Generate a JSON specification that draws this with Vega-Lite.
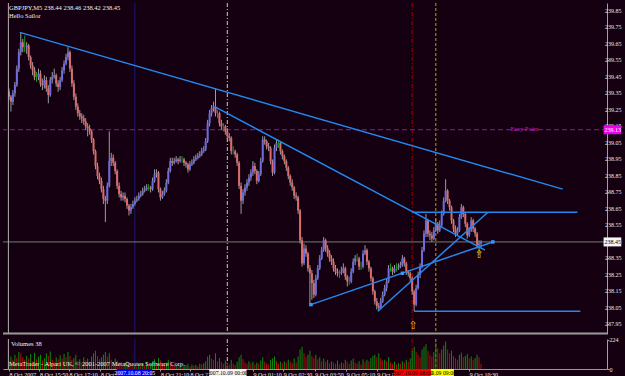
{
"$schema": "https://vega.github.io/schema/vega-lite/v6.json",
"background": "#140010",
"padding": {"left": 2, "top": 2, "right": 0, "bottom": 0},
"spacing": 1,
"config": {
 "view": {"stroke": null},
 "axis": {"grid": false, "labelFont": "Liberation Sans Narrow", "labelFontSize": 6.5, "labelColor": "#e8e8e8", "domainColor": "#a0a0a0", "tickColor": "#a0a0a0", "tickSize": 2, "labelOverlap": false, "labelFlush": false},
 "text": {"font": "Liberation Sans Narrow"}
},
"datasets": {
 "bars": [
{"t":0,"o":239.36,"h":239.38,"l":239.31,"c":239.33,"v":60},
{"t":1,"o":239.33,"h":239.34,"l":239.24,"c":239.30,"v":95},
{"t":2,"o":239.30,"h":239.37,"l":239.28,"c":239.35,"v":70},
{"t":3,"o":239.35,"h":239.42,"l":239.33,"c":239.40,"v":110},
{"t":4,"o":239.40,"h":239.52,"l":239.39,"c":239.50,"v":85},
{"t":5,"o":239.50,"h":239.62,"l":239.48,"c":239.60,"v":130},
{"t":6,"o":239.60,"h":239.72,"l":239.58,"c":239.66,"v":120},
{"t":7,"o":239.66,"h":239.68,"l":239.60,"c":239.63,"v":90},
{"t":8,"o":239.63,"h":239.70,"l":239.60,"c":239.63,"v":70},
{"t":9,"o":239.63,"h":239.66,"l":239.59,"c":239.64,"v":100},
{"t":10,"o":239.64,"h":239.65,"l":239.55,"c":239.57,"v":80},
{"t":11,"o":239.57,"h":239.58,"l":239.50,"c":239.52,"v":115},
{"t":12,"o":239.52,"h":239.54,"l":239.46,"c":239.49,"v":60},
{"t":13,"o":239.49,"h":239.51,"l":239.43,"c":239.45,"v":125},
{"t":14,"o":239.45,"h":239.48,"l":239.42,"c":239.45,"v":75},
{"t":15,"o":239.45,"h":239.50,"l":239.43,"c":239.47,"v":95},
{"t":16,"o":239.47,"h":239.49,"l":239.39,"c":239.41,"v":110},
{"t":17,"o":239.41,"h":239.44,"l":239.37,"c":239.40,"v":65},
{"t":18,"o":239.40,"h":239.46,"l":239.38,"c":239.43,"v":85},
{"t":19,"o":239.43,"h":239.45,"l":239.36,"c":239.38,"v":120},
{"t":20,"o":239.38,"h":239.40,"l":239.29,"c":239.34,"v":100},
{"t":21,"o":239.34,"h":239.45,"l":239.33,"c":239.43,"v":135},
{"t":22,"o":239.43,"h":239.48,"l":239.41,"c":239.45,"v":70},
{"t":23,"o":239.45,"h":239.50,"l":239.44,"c":239.46,"v":55},
{"t":24,"o":239.46,"h":239.47,"l":239.39,"c":239.41,"v":90},
{"t":25,"o":239.41,"h":239.43,"l":239.36,"c":239.39,"v":75},
{"t":26,"o":239.39,"h":239.45,"l":239.37,"c":239.43,"v":105},
{"t":27,"o":239.43,"h":239.51,"l":239.42,"c":239.49,"v":80},
{"t":28,"o":239.49,"h":239.55,"l":239.47,"c":239.53,"v":115},
{"t":29,"o":239.53,"h":239.59,"l":239.52,"c":239.57,"v":90},
{"t":30,"o":239.57,"h":239.63,"l":239.55,"c":239.60,"v":130},
{"t":31,"o":239.60,"h":239.61,"l":239.48,"c":239.50,"v":100},
{"t":32,"o":239.50,"h":239.52,"l":239.39,"c":239.41,"v":70},
{"t":33,"o":239.41,"h":239.43,"l":239.31,"c":239.33,"v":85},
{"t":34,"o":239.33,"h":239.35,"l":239.25,"c":239.27,"v":110},
{"t":35,"o":239.27,"h":239.29,"l":239.21,"c":239.23,"v":60},
{"t":36,"o":239.23,"h":239.25,"l":239.19,"c":239.21,"v":75},
{"t":37,"o":239.21,"h":239.23,"l":239.17,"c":239.20,"v":50},
{"t":38,"o":239.20,"h":239.22,"l":239.16,"c":239.18,"v":90},
{"t":39,"o":239.18,"h":239.20,"l":239.13,"c":239.15,"v":65},
{"t":40,"o":239.15,"h":239.17,"l":239.09,"c":239.14,"v":80},
{"t":41,"o":239.14,"h":239.16,"l":239.10,"c":239.12,"v":55},
{"t":42,"o":239.12,"h":239.13,"l":239.05,"c":239.07,"v":95},
{"t":43,"o":239.07,"h":239.08,"l":238.98,"c":239.00,"v":120},
{"t":44,"o":239.00,"h":239.01,"l":238.89,"c":238.91,"v":140},
{"t":45,"o":238.91,"h":238.93,"l":238.83,"c":238.85,"v":100},
{"t":46,"o":238.85,"h":238.87,"l":238.80,"c":238.82,"v":75},
{"t":47,"o":238.82,"h":238.84,"l":238.75,"c":238.77,"v":90},
{"t":48,"o":238.77,"h":238.79,"l":238.68,"c":238.71,"v":110},
{"t":49,"o":238.71,"h":238.73,"l":238.57,"c":238.70,"v":130},
{"t":50,"o":238.70,"h":238.81,"l":238.68,"c":238.79,"v":95},
{"t":51,"o":238.79,"h":239.12,"l":238.78,"c":238.94,"v":120},
{"t":52,"o":238.94,"h":238.99,"l":238.91,"c":238.96,"v":70},
{"t":53,"o":238.96,"h":238.98,"l":238.91,"c":238.93,"v":55},
{"t":54,"o":238.93,"h":238.94,"l":238.86,"c":238.88,"v":80},
{"t":55,"o":238.88,"h":238.89,"l":238.77,"c":238.79,"v":65},
{"t":56,"o":238.79,"h":238.81,"l":238.72,"c":238.74,"v":50},
{"t":57,"o":238.74,"h":238.76,"l":238.70,"c":238.72,"v":40},
{"t":58,"o":238.72,"h":238.75,"l":238.70,"c":238.73,"v":35},
{"t":59,"o":238.73,"h":238.75,"l":238.69,"c":238.71,"v":45},
{"t":60,"o":238.71,"h":238.72,"l":238.65,"c":238.67,"v":60},
{"t":61,"o":238.67,"h":238.68,"l":238.61,"c":238.64,"v":50},
{"t":62,"o":238.64,"h":238.68,"l":238.62,"c":238.66,"v":30},
{"t":63,"o":238.66,"h":238.70,"l":238.65,"c":238.68,"v":25},
{"t":64,"o":238.68,"h":238.72,"l":238.67,"c":238.70,"v":35},
{"t":65,"o":238.70,"h":238.73,"l":238.69,"c":238.71,"v":20},
{"t":66,"o":238.71,"h":238.75,"l":238.70,"c":238.73,"v":40},
{"t":67,"o":238.73,"h":238.76,"l":238.72,"c":238.74,"v":30},
{"t":68,"o":238.74,"h":238.78,"l":238.73,"c":238.76,"v":45},
{"t":69,"o":238.76,"h":238.79,"l":238.75,"c":238.77,"v":25},
{"t":70,"o":238.77,"h":238.80,"l":238.76,"c":238.78,"v":55},
{"t":71,"o":238.78,"h":238.80,"l":238.76,"c":238.78,"v":30},
{"t":72,"o":238.78,"h":238.79,"l":238.75,"c":238.77,"v":40},
{"t":73,"o":238.77,"h":238.84,"l":238.76,"c":238.82,"v":60},
{"t":74,"o":238.82,"h":238.89,"l":238.81,"c":238.86,"v":75},
{"t":75,"o":238.86,"h":238.89,"l":238.84,"c":238.87,"v":45},
{"t":76,"o":238.87,"h":238.88,"l":238.75,"c":238.77,"v":85},
{"t":77,"o":238.77,"h":238.78,"l":238.70,"c":238.72,"v":65},
{"t":78,"o":238.72,"h":238.76,"l":238.71,"c":238.74,"v":40},
{"t":79,"o":238.74,"h":238.78,"l":238.73,"c":238.76,"v":30},
{"t":80,"o":238.76,"h":238.83,"l":238.75,"c":238.81,"v":50},
{"t":81,"o":238.81,"h":238.90,"l":238.80,"c":238.88,"v":70},
{"t":82,"o":238.88,"h":238.96,"l":238.87,"c":238.94,"v":60},
{"t":83,"o":238.94,"h":238.96,"l":238.91,"c":238.93,"v":35},
{"t":84,"o":238.93,"h":238.96,"l":238.92,"c":238.94,"v":25},
{"t":85,"o":238.94,"h":238.97,"l":238.93,"c":238.95,"v":30},
{"t":86,"o":238.95,"h":238.96,"l":238.92,"c":238.94,"v":20},
{"t":87,"o":238.94,"h":238.97,"l":238.93,"c":238.95,"v":35},
{"t":88,"o":238.95,"h":238.97,"l":238.93,"c":238.95,"v":15},
{"t":89,"o":238.95,"h":238.96,"l":238.91,"c":238.93,"v":25},
{"t":90,"o":238.93,"h":238.94,"l":238.90,"c":238.92,"v":30},
{"t":91,"o":238.92,"h":238.93,"l":238.87,"c":238.89,"v":40},
{"t":92,"o":238.89,"h":238.94,"l":238.88,"c":238.92,"v":20},
{"t":93,"o":238.92,"h":238.95,"l":238.91,"c":238.93,"v":35},
{"t":94,"o":238.93,"h":238.97,"l":238.92,"c":238.95,"v":25},
{"t":95,"o":238.95,"h":238.98,"l":238.94,"c":238.96,"v":30},
{"t":96,"o":238.96,"h":238.99,"l":238.95,"c":238.97,"v":20},
{"t":97,"o":238.97,"h":239.00,"l":238.96,"c":238.98,"v":40},
{"t":98,"o":238.98,"h":239.02,"l":238.97,"c":239.00,"v":35},
{"t":99,"o":239.00,"h":239.03,"l":238.99,"c":239.01,"v":45},
{"t":100,"o":239.01,"h":239.08,"l":239.00,"c":239.06,"v":60},
{"t":101,"o":239.06,"h":239.19,"l":239.05,"c":239.17,"v":95},
{"t":102,"o":239.17,"h":239.25,"l":239.15,"c":239.23,"v":110},
{"t":103,"o":239.23,"h":239.28,"l":239.21,"c":239.26,"v":80},
{"t":104,"o":239.26,"h":239.30,"l":239.24,"c":239.27,"v":70},
{"t":105,"o":239.27,"h":239.38,"l":239.21,"c":239.23,"v":120},
{"t":106,"o":239.23,"h":239.25,"l":239.20,"c":239.23,"v":60},
{"t":107,"o":239.23,"h":239.24,"l":239.15,"c":239.17,"v":85},
{"t":108,"o":239.17,"h":239.19,"l":239.13,"c":239.15,"v":55},
{"t":109,"o":239.15,"h":239.17,"l":239.12,"c":239.15,"v":40},
{"t":110,"o":239.15,"h":239.16,"l":239.10,"c":239.12,"v":65},
{"t":111,"o":239.12,"h":239.14,"l":239.07,"c":239.09,"v":50},
{"t":112,"o":239.09,"h":239.11,"l":239.06,"c":239.08,"v":35},
{"t":113,"o":239.08,"h":239.09,"l":238.98,"c":239.00,"v":70},
{"t":114,"o":239.00,"h":239.03,"l":238.98,"c":239.00,"v":40},
{"t":115,"o":239.00,"h":239.01,"l":238.96,"c":238.98,"v":30},
{"t":116,"o":238.98,"h":238.99,"l":238.91,"c":238.93,"v":55},
{"t":117,"o":238.93,"h":238.94,"l":238.77,"c":238.79,"v":90},
{"t":118,"o":238.79,"h":238.81,"l":238.62,"c":238.70,"v":110},
{"t":119,"o":238.70,"h":238.77,"l":238.68,"c":238.75,"v":75},
{"t":120,"o":238.75,"h":238.80,"l":238.73,"c":238.78,"v":50},
{"t":121,"o":238.78,"h":238.83,"l":238.76,"c":238.81,"v":40},
{"t":122,"o":238.81,"h":238.86,"l":238.79,"c":238.84,"v":60},
{"t":123,"o":238.84,"h":238.89,"l":238.82,"c":238.87,"v":45},
{"t":124,"o":238.87,"h":238.94,"l":238.85,"c":238.91,"v":55},
{"t":125,"o":238.91,"h":238.93,"l":238.86,"c":238.88,"v":35},
{"t":126,"o":238.88,"h":238.89,"l":238.80,"c":238.82,"v":50},
{"t":127,"o":238.82,"h":238.88,"l":238.81,"c":238.86,"v":40},
{"t":128,"o":238.86,"h":238.96,"l":238.85,"c":238.94,"v":65},
{"t":129,"o":238.94,"h":239.09,"l":238.93,"c":239.07,"v":90},
{"t":130,"o":239.07,"h":239.09,"l":239.04,"c":239.06,"v":55},
{"t":131,"o":239.06,"h":239.07,"l":239.01,"c":239.03,"v":45},
{"t":132,"o":239.03,"h":239.05,"l":239.00,"c":239.02,"v":35},
{"t":133,"o":239.02,"h":239.03,"l":238.92,"c":238.94,"v":70},
{"t":134,"o":238.94,"h":238.95,"l":238.85,"c":238.87,"v":80},
{"t":135,"o":238.87,"h":239.04,"l":238.86,"c":239.02,"v":95},
{"t":136,"o":239.02,"h":239.07,"l":239.00,"c":239.05,"v":60},
{"t":137,"o":239.05,"h":239.07,"l":239.02,"c":239.05,"v":40},
{"t":138,"o":239.05,"h":239.06,"l":238.98,"c":239.00,"v":55},
{"t":139,"o":239.00,"h":239.01,"l":238.95,"c":238.97,"v":45},
{"t":140,"o":238.97,"h":238.98,"l":238.92,"c":238.94,"v":60},
{"t":141,"o":238.94,"h":238.95,"l":238.88,"c":238.90,"v":50},
{"t":142,"o":238.90,"h":238.91,"l":238.83,"c":238.85,"v":70},
{"t":143,"o":238.85,"h":238.86,"l":238.79,"c":238.81,"v":55},
{"t":144,"o":238.81,"h":238.83,"l":238.76,"c":238.78,"v":45},
{"t":145,"o":238.78,"h":238.79,"l":238.71,"c":238.73,"v":80},
{"t":146,"o":238.73,"h":238.75,"l":238.70,"c":238.72,"v":50},
{"t":147,"o":238.72,"h":238.73,"l":238.62,"c":238.64,"v":95},
{"t":148,"o":238.64,"h":238.65,"l":238.44,"c":238.46,"v":150},
{"t":149,"o":238.46,"h":238.48,"l":238.30,"c":238.32,"v":170},
{"t":150,"o":238.32,"h":238.44,"l":238.31,"c":238.41,"v":120},
{"t":151,"o":238.41,"h":238.43,"l":238.36,"c":238.38,"v":90},
{"t":152,"o":238.38,"h":238.39,"l":238.27,"c":238.29,"v":110},
{"t":153,"o":238.29,"h":238.31,"l":238.07,"c":238.26,"v":140},
{"t":154,"o":238.26,"h":238.28,"l":238.10,"c":238.20,"v":100},
{"t":155,"o":238.20,"h":238.22,"l":238.11,"c":238.13,"v":85},
{"t":156,"o":238.13,"h":238.25,"l":238.12,"c":238.23,"v":110},
{"t":157,"o":238.23,"h":238.31,"l":238.22,"c":238.29,"v":75},
{"t":158,"o":238.29,"h":238.37,"l":238.28,"c":238.35,"v":90},
{"t":159,"o":238.35,"h":238.42,"l":238.34,"c":238.40,"v":60},
{"t":160,"o":238.40,"h":238.48,"l":238.39,"c":238.46,"v":80},
{"t":161,"o":238.46,"h":238.47,"l":238.39,"c":238.41,"v":55},
{"t":162,"o":238.41,"h":238.43,"l":238.36,"c":238.38,"v":70},
{"t":163,"o":238.38,"h":238.40,"l":238.33,"c":238.35,"v":45},
{"t":164,"o":238.35,"h":238.37,"l":238.31,"c":238.33,"v":60},
{"t":165,"o":238.33,"h":238.35,"l":238.27,"c":238.29,"v":50},
{"t":166,"o":238.29,"h":238.31,"l":238.25,"c":238.27,"v":40},
{"t":167,"o":238.27,"h":238.29,"l":238.24,"c":238.26,"v":65},
{"t":168,"o":238.26,"h":238.28,"l":238.23,"c":238.26,"v":35},
{"t":169,"o":238.26,"h":238.30,"l":238.25,"c":238.27,"v":50},
{"t":170,"o":238.27,"h":238.32,"l":238.26,"c":238.29,"v":45},
{"t":171,"o":238.29,"h":238.30,"l":238.22,"c":238.24,"v":70},
{"t":172,"o":238.24,"h":238.25,"l":238.18,"c":238.21,"v":55},
{"t":173,"o":238.21,"h":238.24,"l":238.19,"c":238.21,"v":40},
{"t":174,"o":238.21,"h":238.29,"l":238.20,"c":238.27,"v":65},
{"t":175,"o":238.27,"h":238.35,"l":238.26,"c":238.33,"v":80},
{"t":176,"o":238.33,"h":238.37,"l":238.31,"c":238.35,"v":50},
{"t":177,"o":238.35,"h":238.38,"l":238.33,"c":238.35,"v":40},
{"t":178,"o":238.35,"h":238.36,"l":238.28,"c":238.30,"v":60},
{"t":179,"o":238.30,"h":238.33,"l":238.28,"c":238.30,"v":35},
{"t":180,"o":238.30,"h":238.40,"l":238.29,"c":238.38,"v":75},
{"t":181,"o":238.38,"h":238.43,"l":238.37,"c":238.40,"v":55},
{"t":182,"o":238.40,"h":238.41,"l":238.31,"c":238.33,"v":70},
{"t":183,"o":238.33,"h":238.34,"l":238.27,"c":238.29,"v":60},
{"t":184,"o":238.29,"h":238.30,"l":238.21,"c":238.23,"v":85},
{"t":185,"o":238.23,"h":238.24,"l":238.13,"c":238.15,"v":100},
{"t":186,"o":238.15,"h":238.16,"l":238.07,"c":238.09,"v":110},
{"t":187,"o":238.09,"h":238.11,"l":238.04,"c":238.06,"v":90},
{"t":188,"o":238.06,"h":238.08,"l":238.03,"c":238.05,"v":120},
{"t":189,"o":238.05,"h":238.11,"l":238.04,"c":238.09,"v":80},
{"t":190,"o":238.09,"h":238.15,"l":238.08,"c":238.13,"v":65},
{"t":191,"o":238.13,"h":238.19,"l":238.12,"c":238.17,"v":70},
{"t":192,"o":238.17,"h":238.23,"l":238.15,"c":238.21,"v":60},
{"t":193,"o":238.21,"h":238.31,"l":238.20,"c":238.29,"v":90},
{"t":194,"o":238.29,"h":238.32,"l":238.27,"c":238.29,"v":50},
{"t":195,"o":238.29,"h":238.30,"l":238.25,"c":238.27,"v":40},
{"t":196,"o":238.27,"h":238.31,"l":238.26,"c":238.29,"v":55},
{"t":197,"o":238.29,"h":238.32,"l":238.27,"c":238.29,"v":35},
{"t":198,"o":238.29,"h":238.32,"l":238.28,"c":238.30,"v":45},
{"t":199,"o":238.30,"h":238.33,"l":238.29,"c":238.31,"v":40},
{"t":200,"o":238.31,"h":238.37,"l":238.30,"c":238.35,"v":60},
{"t":201,"o":238.35,"h":238.36,"l":238.30,"c":238.32,"v":50},
{"t":202,"o":238.32,"h":238.33,"l":238.25,"c":238.27,"v":70},
{"t":203,"o":238.27,"h":238.28,"l":238.24,"c":238.26,"v":55},
{"t":204,"o":238.26,"h":238.27,"l":238.21,"c":238.23,"v":80},
{"t":205,"o":238.23,"h":238.24,"l":238.13,"c":238.15,"v":140},
{"t":206,"o":238.15,"h":238.16,"l":238.03,"c":238.07,"v":170},
{"t":207,"o":238.07,"h":238.19,"l":238.06,"c":238.17,"v":130},
{"t":208,"o":238.17,"h":238.27,"l":238.16,"c":238.25,"v":110},
{"t":209,"o":238.25,"h":238.32,"l":238.23,"c":238.30,"v":90},
{"t":210,"o":238.30,"h":238.42,"l":238.29,"c":238.40,"v":150},
{"t":211,"o":238.40,"h":238.52,"l":238.39,"c":238.50,"v":170},
{"t":212,"o":238.50,"h":238.62,"l":238.48,"c":238.58,"v":190},
{"t":213,"o":238.58,"h":238.59,"l":238.48,"c":238.50,"v":140},
{"t":214,"o":238.50,"h":238.52,"l":238.46,"c":238.49,"v":110},
{"t":215,"o":238.49,"h":238.51,"l":238.45,"c":238.47,"v":95},
{"t":216,"o":238.47,"h":238.54,"l":238.46,"c":238.52,"v":130},
{"t":217,"o":238.52,"h":238.59,"l":238.51,"c":238.56,"v":200},
{"t":218,"o":238.56,"h":238.57,"l":238.50,"c":238.52,"v":160},
{"t":219,"o":238.52,"h":238.58,"l":238.51,"c":238.55,"v":120},
{"t":220,"o":238.55,"h":238.64,"l":238.54,"c":238.62,"v":150},
{"t":221,"o":238.62,"h":238.72,"l":238.61,"c":238.70,"v":180},
{"t":222,"o":238.70,"h":238.83,"l":238.69,"c":238.76,"v":210},
{"t":223,"o":238.76,"h":238.77,"l":238.68,"c":238.70,"v":150},
{"t":224,"o":238.70,"h":238.71,"l":238.64,"c":238.66,"v":120},
{"t":225,"o":238.66,"h":238.67,"l":238.56,"c":238.58,"v":140},
{"t":226,"o":238.58,"h":238.59,"l":238.51,"c":238.53,"v":100},
{"t":227,"o":238.53,"h":238.55,"l":238.48,"c":238.50,"v":85},
{"t":228,"o":238.50,"h":238.54,"l":238.49,"c":238.52,"v":70},
{"t":229,"o":238.52,"h":238.62,"l":238.51,"c":238.60,"v":110},
{"t":230,"o":238.60,"h":238.68,"l":238.59,"c":238.66,"v":125},
{"t":231,"o":238.66,"h":238.67,"l":238.60,"c":238.62,"v":90},
{"t":232,"o":238.62,"h":238.63,"l":238.54,"c":238.56,"v":100},
{"t":233,"o":238.56,"h":238.57,"l":238.47,"c":238.49,"v":115},
{"t":234,"o":238.49,"h":238.54,"l":238.48,"c":238.52,"v":80},
{"t":235,"o":238.52,"h":238.60,"l":238.51,"c":238.58,"v":95},
{"t":236,"o":238.58,"h":238.59,"l":238.51,"c":238.53,"v":70},
{"t":237,"o":238.53,"h":238.54,"l":238.48,"c":238.50,"v":85},
{"t":238,"o":238.50,"h":238.51,"l":238.41,"c":238.43,"v":110},
{"t":239,"o":238.43,"h":238.46,"l":238.37,"c":238.44,"v":90},
{"t":240,"o":238.44,"h":238.46,"l":238.42,"c":238.45,"v":38}
 ],
 "trend": [
  {"t":5.5,"p":239.72,"t2":281.5,"p2":238.77},
  {"t":104.5,"p":239.27,"t2":242,"p2":238.40},
  {"t":153.5,"p":238.07,"t2":246,"p2":238.45},
  {"t":187.5,"p":238.03,"t2":243.5,"p2":238.63},
  {"t":205,"p":238.63,"t2":289,"p2":238.63},
  {"t":206,"p":238.03,"t2":290.5,"p2":238.03}
 ],
 "anchors": [{"t":153.5,"p":238.07},{"t":200,"p":238.26},{"t":246,"p":238.45}],
 "arrows": [{"t":205.5,"p":237.94},{"t":239,"p":238.37}],
 "priceTicks": [
  {"p":237.95,"s":"237.95"},{"p":238.05,"s":"238.05"},{"p":238.15,"s":"238.15"},{"p":238.25,"s":"238.25"},{"p":238.35,"s":"238.35"},
  {"p":238.45,"s":"238.45"},{"p":238.55,"s":"238.55"},{"p":238.65,"s":"238.65"},{"p":238.75,"s":"238.75"},{"p":238.85,"s":"238.85"},
  {"p":238.95,"s":"238.95"},{"p":239.05,"s":"239.05"},{"p":239.15,"s":"239.15"},{"p":239.25,"s":"239.25"},{"p":239.35,"s":"239.35"},
  {"p":239.45,"s":"239.45"},{"p":239.55,"s":"239.55"},{"p":239.65,"s":"239.65"},{"p":239.75,"s":"239.75"},{"p":239.85,"s":"239.85"}
 ],
 "vlines": [
  {"t":64,"kind":"blue","label":"2007.10.08 20:05","a":54.8,"b":72.8},
  {"t":111,"kind":"white","label":"2007.10.09 00:00","a":101.8,"b":120.8},
  {"t":217,"kind":"yellow","label":"2007.10.09 09:00","a":207.8,"b":226.2},
  {"t":205,"kind":"red","label":"2007.10.09 08:00","a":195.8,"b":214.5}
 ],
 "hlines": [
  {"p":239.13,"kind":"level","label":"239.13"},
  {"p":238.45,"kind":"bid","label":"238.45"}
 ]
},
"vconcat": [
 {
  "width": 604,
  "height": 331,
  "layer": [
   {
    "data": {"name": "vlines"},
    "mark": {"type": "rule", "strokeWidth": 1},
    "encoding": {
     "x": {"field": "t", "type": "quantitative", "title": null, "scale": {"domain": [-0.5, 301.5], "nice": false, "zero": false}, "axis": null},
     "color": {"field": "kind", "type": "nominal", "legend": null, "scale": {"domain": ["blue","white","yellow","red"], "range": ["#18187a","#c8c8c8","#a8a800","#a00000"]}},
     "strokeDash": {"field": "kind", "type": "nominal", "legend": null, "scale": {"domain": ["blue","white","yellow","red"], "range": [[1,0],[4,2,1,2],[3,2],[4,2,1,2]]}}
    }
   },
   {
    "data": {"name": "hlines"},
    "mark": {"type": "rule", "strokeWidth": 1},
    "encoding": {
     "y": {"field": "p", "type": "quantitative", "title": null, "scale": {"domain": [237.892, 239.898], "nice": false, "zero": false}},
     "color": {"field": "kind", "type": "nominal", "legend": null, "scale": {"domain": ["level","bid"], "range": ["#9a10a0","#6f7f6f"]}},
     "strokeDash": {"field": "kind", "type": "nominal", "legend": null, "scale": {"domain": ["level","bid"], "range": [[5,3],[1,0]]}}
    }
   },
   {
    "data": {"name": "bars"},
    "mark": {"type": "rule", "strokeWidth": 1},
    "encoding": {
     "x": {"field": "t", "type": "quantitative", "title": null, "scale": {"domain": [-0.5, 301.5], "nice": false, "zero": false}, "axis": null},
     "y": {"field": "l", "type": "quantitative", "title": null, "scale": {"domain": [237.892, 239.898], "nice": false, "zero": false},
      "axis": {"orient": "right", "values": [237.95,238.05,238.15,238.25,238.35,238.45,238.55,238.65,238.75,238.85,238.95,239.05,239.15,239.25,239.35,239.45,239.55,239.65,239.75,239.85], "labels": false}},
     "y2": {"field": "h"},
     "color": {"condition": {"test": "datum.c == datum.o", "value": "#1c9a1c"}, "value": "#9c9c9c"}
    }
   },
   {
    "data": {"name": "bars"},
    "mark": {"type": "bar", "size": 2},
    "encoding": {
     "x": {"field": "t", "type": "quantitative", "title": null},
     "y": {"field": "o", "type": "quantitative", "title": null},
     "y2": {"field": "c"},
     "color": {"condition": {"test": "datum.c > datum.o", "value": "#6c6ce0"}, "value": "#dc6c6c"}
    }
   },
   {
    "data": {"name": "trend"},
    "mark": {"type": "rule", "strokeWidth": 1.5, "color": "#2288ee"},
    "encoding": {
     "x": {"field": "t", "type": "quantitative", "title": null},
     "y": {"field": "p", "type": "quantitative", "title": null},
     "x2": {"field": "t2"},
     "y2": {"field": "p2"}
    }
   },
   {
    "data": {"name": "anchors"},
    "mark": {"type": "square", "size": 12, "filled": true, "color": "#3399ff", "opacity": 1},
    "encoding": {
     "x": {"field": "t", "type": "quantitative", "title": null},
     "y": {"field": "p", "type": "quantitative", "title": null}
    }
   },
   {
    "data": {"name": "arrows"},
    "mark": {"type": "text", "text": "⇧", "fontSize": 11, "color": "#d8cc00", "font": "DejaVu Sans", "baseline": "middle", "align": "center"},
    "encoding": {
     "x": {"field": "t", "type": "quantitative", "title": null},
     "y": {"field": "p", "type": "quantitative", "title": null}
    }
   },
   {
    "data": {"values": [{"t": 255, "p": 239.13, "s": "Easy Point"}]},
    "mark": {"type": "text", "fontSize": 6.5, "color": "#c020c0", "align": "left", "baseline": "middle", "dy": -1},
    "encoding": {
     "x": {"field": "t", "type": "quantitative", "title": null},
     "y": {"field": "p", "type": "quantitative", "title": null},
     "text": {"field": "s"}
    }
   },
   {
    "data": {"values": [{"t": 0, "p": 239.868, "s": "GBPJPY,M5  238.44 238.46 238.42 238.45"}, {"t": 0, "p": 239.818, "s": "Hello Sailor"}]},
    "mark": {"type": "text", "fontSize": 6.5, "color": "#f0f0f0", "align": "left", "baseline": "middle"},
    "encoding": {
     "x": {"field": "t", "type": "quantitative", "title": null},
     "y": {"field": "p", "type": "quantitative", "title": null},
     "text": {"field": "s"}
    }
   },
   {
    "data": {"values": [{"t": -0.3}]},
    "mark": {"type": "rule", "color": "#b0b0b0", "strokeWidth": 1},
    "encoding": {"x": {"field": "t", "type": "quantitative", "title": null}}
   },
   {
    "data": {"values": [{"p": 237.895}]},
    "mark": {"type": "rule", "color": "#9a9a9a", "strokeWidth": 2},
    "encoding": {"y": {"field": "p", "type": "quantitative", "title": null}}
   },
   {
    "data": {"name": "priceTicks"},
    "mark": {"type": "text", "fontSize": 6, "align": "left", "baseline": "middle", "color": "#e8e8e8", "clip": false},
    "encoding": {
     "x": {"datum": 301.5},
     "y": {"field": "p", "type": "quantitative", "title": null},
     "text": {"field": "s"},
     "xOffset": {"value": 3}
    }
   },
   {
    "data": {"name": "hlines"},
    "mark": {"type": "rule", "strokeWidth": 9, "clip": false},
    "encoding": {
     "x": {"datum": 302.3},
     "x2": {"datum": 311.3},
     "y": {"field": "p", "type": "quantitative", "title": null},
     "color": {"field": "kind", "type": "nominal", "legend": null, "scale": {"domain": ["level","bid"], "range": ["#ee00ee","#f4f4f4"]}}
    }
   },
   {
    "data": {"name": "hlines"},
    "mark": {"type": "text", "fontSize": 6, "align": "left", "baseline": "middle", "clip": false},
    "encoding": {
     "x": {"datum": 302.8},
     "y": {"field": "p", "type": "quantitative", "title": null},
     "text": {"field": "label"},
     "color": {"condition": {"test": "datum.kind == 'bid'", "value": "#000000"}, "value": "#ffffff"}
    }
   }
  ],
  "resolve": {"scale": {"color": "independent", "strokeDash": "independent"}}
 },
 {
  "width": 604,
  "height": 30,
  "layer": [
   {
    "data": {"name": "vlines"},
    "mark": {"type": "rule", "strokeWidth": 1},
    "encoding": {
     "x": {"field": "t", "type": "quantitative", "title": null, "scale": {"domain": [-0.5, 301.5], "nice": false, "zero": false}},
     "color": {"field": "kind", "type": "nominal", "legend": null, "scale": {"domain": ["blue","white","yellow","red"], "range": ["#18187a","#c8c8c8","#a8a800","#a00000"]}},
     "strokeDash": {"field": "kind", "type": "nominal", "legend": null, "scale": {"domain": ["blue","white","yellow","red"], "range": [[1,0],[4,2,1,2],[3,2],[4,2,1,2]]}}
    }
   },
   {
    "data": {"name": "bars"},
    "transform": [{"window": [{"op": "lag", "field": "v", "as": "pv"}], "sort": [{"field": "t"}]}],
    "mark": {"type": "bar", "size": 1},
    "encoding": {
     "x": {"field": "t", "type": "quantitative", "title": null, "scale": {"domain": [-0.5, 301.5], "nice": false, "zero": false},
      "axis": {"orient": "bottom", "values": [0,15.5,30.5,46.5,77,92,124,139.5,155.5,171.5,187,234],
       "labelExpr": "['8 Oct 2007','8 Oct 15:50','8 Oct 17:10','8 Oct 18:30','8 Oct 21:10','8 Oct 22:30','9 Oct 01:10','9 Oct 02:30','9 Oct 03:50','9 Oct 05:10','9 Oct 06:30','9 Oct 10:30'][indexof([0,15.5,30.5,46.5,77,92,124,139.5,155.5,171.5,187,234], datum.value)]",
       "labelAlign": "left", "labelPadding": 0, "labelBaseline": "top", "tickSize": 2, "domainColor": "#9a9a9a", "labelOverlap": false, "labelFontSize": 6}},
     "y": {"field": "v", "type": "quantitative", "title": null, "scale": {"domain": [0, 230], "nice": false},
      "axis": {"orient": "right", "values": [0, 224], "labelPadding": 0, "labelOverlap": false, "labelFontSize": 6}},
     "color": {"condition": {"test": "datum.pv == null || datum.v > datum.pv", "value": "#0c8a0c"}, "value": "#b01010"}
    }
   },
   {
    "data": {"values": [{"t": -0.3}]},
    "mark": {"type": "rule", "color": "#b0b0b0", "strokeWidth": 1},
    "encoding": {"x": {"field": "t", "type": "quantitative", "title": null}}
   },
   {
    "data": {"values": [{"t": 1, "v": 188, "s": "Volumes 38"}, {"t": 0, "v": 40, "s": "MetaTrader - Alpari UK, © 2001-2007 MetaQuotes Software Corp."}]},
    "mark": {"type": "text", "fontSize": 6.5, "color": "#f0f0f0", "align": "left", "baseline": "middle"},
    "encoding": {
     "x": {"field": "t", "type": "quantitative", "title": null},
     "y": {"field": "v", "type": "quantitative", "title": null},
     "text": {"field": "s"}
    }
   },
   {
    "data": {"name": "vlines"},
    "transform": [{"filter": "datum.kind != 'red'"}],
    "mark": {"type": "rule", "strokeWidth": 8, "clip": false},
    "encoding": {
     "x": {"field": "a", "type": "quantitative", "title": null},
     "x2": {"field": "b"},
     "y": {"datum": -30},
     "color": {"field": "kind", "type": "nominal", "legend": null, "scale": {"domain": ["blue","white","yellow","red"], "range": ["#0000ff","#f4f4f4","#ffff00","#ff0000"]}}
    }
   },
   {
    "data": {"name": "vlines"},
    "transform": [{"filter": "datum.kind != 'red'"}],
    "mark": {"type": "text", "fontSize": 5.8, "align": "center", "baseline": "middle", "clip": false},
    "encoding": {
     "x": {"field": "t", "type": "quantitative", "title": null},
     "y": {"datum": -30},
     "text": {"field": "label"},
     "color": {"field": "kind", "type": "nominal", "legend": null, "scale": {"domain": ["blue","white","yellow","red"], "range": ["#ffffff","#000000","#000000","#000000"]}}
    }
   },
   {
    "data": {"name": "vlines"},
    "transform": [{"filter": "datum.kind == 'red'"}],
    "mark": {"type": "rule", "strokeWidth": 8, "clip": false, "color": "#ff0000"},
    "encoding": {
     "x": {"field": "a", "type": "quantitative", "title": null},
     "x2": {"field": "b"},
     "y": {"datum": -30}
    }
   },
   {
    "data": {"name": "vlines"},
    "transform": [{"filter": "datum.kind == 'red'"}],
    "mark": {"type": "text", "fontSize": 5.8, "align": "center", "baseline": "middle", "clip": false, "color": "#000000"},
    "encoding": {
     "x": {"field": "t", "type": "quantitative", "title": null},
     "y": {"datum": -30},
     "text": {"field": "label"}
    }
   }
  ],
  "resolve": {"scale": {"color": "independent", "strokeDash": "independent"}}
 }
]
}
